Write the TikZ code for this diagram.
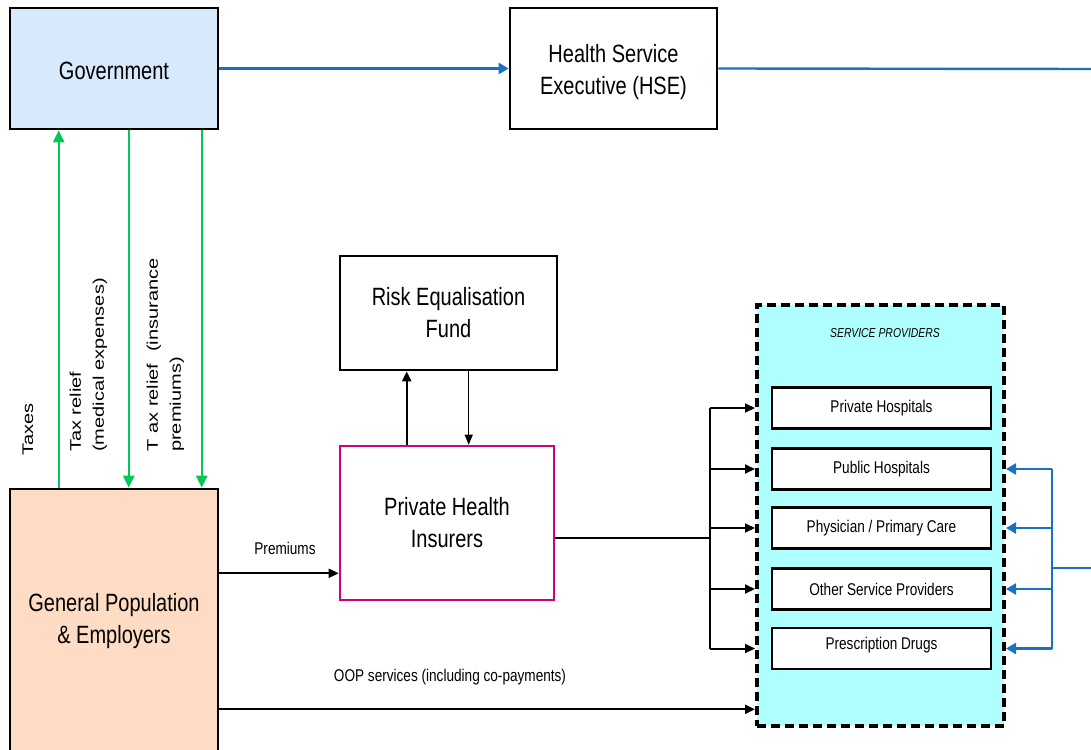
\documentclass[tikz,border=0pt]{standalone}
\usepackage{fontspec}
\setmainfont{Liberation Sans}
\newfontfamily\cond[FakeStretch=0.8]{Liberation Sans}
\newfontfamily\vlab[FakeStretch=1.3]{Liberation Sans}
\usetikzlibrary{arrows.meta,calc}
\definecolor{govfill}{HTML}{D6EAFC}
\definecolor{gpfill}{HTML}{FDDCC3}
\definecolor{spfill}{HTML}{B0FFFF}
\definecolor{insborder}{HTML}{CC0080}
\definecolor{flowgreen}{HTML}{00C853}
\definecolor{flowblue}{HTML}{1872C4}
\begin{document}
\begin{tikzpicture}[x=1pt,y=-1pt,
  box/.style={draw, line width=2.6pt, inner sep=0pt, align=center,
    font=\cond\fontsize{25}{32}\selectfont},
  boxtext/.style={font=\cond\fontsize{25}{32}\selectfont, align=center, inner sep=0pt},
  provbox/.style={draw, line width=2.6pt, inner sep=0pt, fill=white,
    minimum width=219pt, minimum height=41pt,
    font=\cond\fontsize{17}{20}\selectfont},
  lbl/.style={inner sep=0pt, font=\cond\fontsize{17}{20}\selectfont},
  vlabel/.style={rotate=90, anchor=west, inner sep=0pt, align=left,
    font=\vlab\fontsize{15.4}{23}\selectfont},
  tip/.style={-{Triangle[length=10pt,width=9pt]}},
  greenflow/.style={draw=flowgreen, line width=2.2pt, -{Triangle[length=12pt,width=11pt]}},
  blueflow/.style={draw=flowblue, line width=2.4pt},
  bluetip/.style={-{Triangle[length=10pt,width=11pt]}},
  blackflow/.style={draw=black, line width=2pt}
]
\useasboundingbox (0,0) rectangle (1091,749);

% main boxes
\node[box, fill=govfill, minimum width=208pt, minimum height=121pt,
  label={[boxtext, yshift=-2pt]center:Government}] (gov) at (114,68.5) {};
\node[box, fill=white, minimum width=207pt, minimum height=121pt,
  label={[boxtext, yshift=-4pt]center:Health Service\\Executive (HSE)}] (hse) at (613.5,68.5) {};
\node[box, fill=white, minimum width=217pt, minimum height=114pt] (ref) at (448.5,313) {Risk Equalisation\\Fund};
\node[box, draw=insborder, fill=white, minimum width=214pt, minimum height=154pt] (phi) at (447,523) {Private Health\\Insurers};
\node[box, fill=gpfill, minimum width=208pt, minimum height=265pt] (gp) at (114,621.5) {General Population\\\& Employers};

% service providers
\node[draw, line width=4pt, dash pattern=on 9pt off 5pt, fill=spfill,
  minimum width=247pt, minimum height=421pt, inner sep=0pt] (sp) at (880.5,515.5) {};
\node[inner sep=0pt, font=\cond\itshape\fontsize{13}{15}\selectfont] (sptitle) at (885,333) {SERVICE PROVIDERS};
\node[provbox] (ph) at (881.5,408) {Private Hospitals};
\node[provbox] (pub) at (881.5,469) {Public Hospitals};
\node[provbox] (phys) at (881.5,528) {Physician / Primary Care};
\node[provbox] (osp) at (881.5,589) {Other Service Providers};
\node[provbox, text depth=10pt] (pd) at (881.5,648.5) {Prescription Drugs};

% blue flows at top
\draw[blueflow, bluetip] (gov.east) -- (hse.west);
\coordinate (hseout) at (1095,69);
\draw[blueflow] (hse.east) -- (hseout);

% green tax flows
\draw[greenflow] ([xshift=50pt]gp.north west) -- ([xshift=50pt]gov.south west);
\draw[greenflow] ([xshift=120pt]gov.south west) -- ([xshift=120pt]gp.north west);
\draw[greenflow] ([xshift=193pt]gov.south west) -- ([xshift=193pt]gp.north west);
\node[vlabel] (taxes) at (28,456) {Taxes};
\node[vlabel] (trmed) at (88.5,452) {Tax relief\\(medical expenses)};
\node[vlabel] (trins) at (165.5,452) {T\kern6pt ax relief\hspace{6pt} (insurance\\premiums)};

% risk equalisation
\draw[blackflow, tip] ([xshift=68pt]phi.north west) -- ([xshift=68pt]ref.south west);
\draw[draw=black, line width=1.2pt, -{Triangle[length=10pt,width=8pt]}] ([xshift=130pt]ref.south west) -- ([xshift=130pt]phi.north west);

% premiums
\coordinate (premin) at ([yshift=28pt]phi.south west);
\draw[blackflow, tip] (gp.east |- premin) -- (premin);
\node[lbl] (premlbl) at (285,548) {Premiums};

% insurers to providers bus
\coordinate (bus) at (710,538);
\draw[blackflow] ([yshift=-15pt]phi.east) -- (bus);
\draw[blackflow] (bus |- ph) -- (bus |- pd);
\foreach \b in {ph,pub,phys,osp,pd}
  \draw[blackflow, tip] (bus |- \b) -- (sp.west |- \b);

% OOP
\coordinate (oop) at ([yshift=46pt]gp.south east);
\draw[blackflow, tip] (oop) -- (sp.west |- oop);
\node[lbl] (ooplbl) at (450,677) {OOP services (including co-payments)};

% HSE funding to providers
\coordinate (rbus) at (1052,568);
\coordinate (rout) at (1095,568);
\draw[blueflow] (rbus |- pub) -- (rbus |- pd);
\draw[blueflow] (rbus) -- (rout);
\foreach \b in {pub,phys,osp,pd}
  \draw[blueflow, bluetip] (rbus |- \b) -- (sp.east |- \b);
\end{tikzpicture}
\end{document}
